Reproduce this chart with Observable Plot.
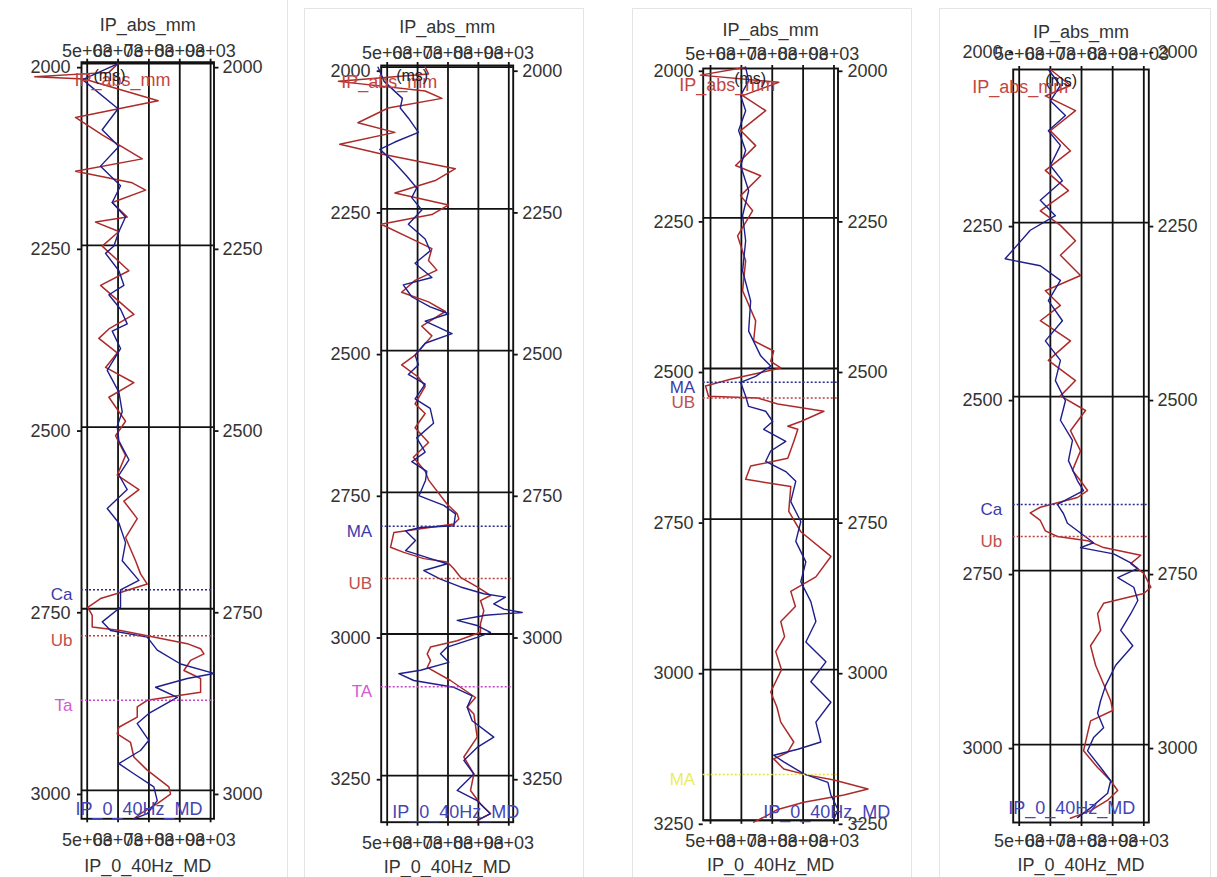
<!DOCTYPE html>
<html><head><meta charset="utf-8">
<script src="https://cdn.jsdelivr.net/npm/d3@7"></script>
<script src="https://cdn.jsdelivr.net/npm/@observablehq/plot@0.6"></script>
<style>
html,body{margin:0;padding:0;background:#fff}
body{width:1217px;height:877px;overflow:hidden;position:relative;font-family:"Liberation Sans",Arial,sans-serif}
.card{position:absolute;box-sizing:border-box;border:1px solid #e4e4e4}
.sep{position:absolute;background:#e4e4e4}
.panel{position:absolute;top:0}
</style></head><body>
<div class="sep" style="left:287px;top:0;width:1px;height:877px"></div>
<div class="card" style="left:304px;top:8px;width:280px;height:900px"></div>
<div class="card" style="left:632px;top:8px;width:280px;height:900px"></div>
<div class="card" style="left:939px;top:8px;width:272px;height:900px"></div>
<div id="p1" class="panel" style="left:0px"></div>
<div id="p2" class="panel" style="left:300px"></div>
<div id="p3" class="panel" style="left:625px"></div>
<div id="p4" class="panel" style="left:930px"></div>
<script>
// ---------------- data ----------------
const ipTicks = [5000, 6000, 7000, 8000, 9000];
const ipTickLabels = ["5e+03", "6e+03", "7e+03", "8e+03", "9e+03"];
const topTitle = "IP_abs_mm";
const bottomTitle = "IP_0_40Hz_MD";
const unitLabel = "(ms)";

// Well 1
const w1DepthTicks = [2000, 2250, 2500, 2750, 3000];
const w1RedDepth = [2000,2012,2018,2021,2051,2074,2098,2131,2148,2164,2174,2191,2211,2218,2231,2251,2285,2305,2345,2365,2378,2398,2418,2439,2459,2492,2512,2539,2566,2586,2602,2626,2652,2684,2702,2716,2729,2736,2748,2759,2775,2780,2787,2798,2805,2812,2821,2835,2846,2865,2869,2876,2885,2899,2913,2922,2934,2954,2972,2995,3005,3018,3032,3039];
const w1RedIP    = [6000,5700,3300,4900,7300,4620,5486,6784,4622,6459,6892,5811,6297,5270,6027,5486,6351,5432,6513,5703,5378,5973,5595,6513,5703,6243,5919,6243,5973,6676,6189,6622,6243,6567,6729,6946,5973,5431,5020,5162,5162,6080,6946,8244,8676,8784,8351,8135,8676,8676,8027,6946,6622,6622,6026,5973,6405,6513,6946,7647,7702,7271,6729,6513];
const w1BlueDepth = [2000,2022,2062,2091,2114,2141,2168,2191,2211,2231,2251,2261,2285,2305,2318,2338,2358,2368,2392,2422,2452,2479,2499,2519,2545,2566,2586,2612,2632,2659,2684,2711,2724,2748,2768,2780,2789,2807,2826,2839,2846,2858,2872,2894,2908,2931,2945,2963,2977,2995,3014,3032,3039];
const w1BlueIP    = [6000,4850,6000,5486,6027,5432,6081,5811,6243,6027,5865,5595,6027,6189,5703,6081,6297,5811,6081,5649,6027,6135,5973,6027,6351,6027,6297,5649,6027,6243,6135,6675,6080,6080,5487,5757,6946,7271,8027,9107,8244,7216,7919,6998,6622,6998,6729,6026,6513,7160,7271,6946,6513];
const w1Tops = ["Ca", "Ub", "Ta"];
const w1TopDepths = [2724, 2787, 2876];

// Well 2
const w2DepthTicks = [2000, 2250, 2500, 2750, 3000, 3250];
const w2RedDepth = [2000,2012,2025,2042,2055,2072,2098,2115,2136,2153,2179,2200,2222,2243,2260,2277,2303,2320,2341,2358,2376,2397,2414,2431,2457,2474,2508,2525,2547,2563,2594,2611,2636,2662,2688,2713,2729,2771,2788,2797,2806,2815,2821,2847,2856,2867,2873,2885,2900,2917,2932,2941,2959,2982,2997,3012,3023,3035,3047,3059,3082,3112,3129,3141,3182,3217,3247,3276,3300,3317,3329];
const w2RedIP    = [6249,6359,3400,6249,6801,5033,4037,5254,3440,4812,7243,6580,5254,7022,6470,4800,5807,6470,6359,6635,5917,5475,6359,6912,6138,6470,5917,5475,6028,6249,5917,6249,5917,6359,5862,6249,6369,6974,7302,7357,7192,5987,5219,5109,5547,6206,6974,7192,7412,7960,8398,8069,8178,8069,8069,7302,6425,6316,6425,6316,7083,7905,7632,7851,7960,7522,7851,7741,8069,8398,7960];
const w2BlueDepth = [2000,2025,2055,2072,2090,2115,2132,2145,2166,2192,2213,2230,2252,2277,2303,2324,2346,2371,2384,2405,2423,2435,2448,2470,2487,2508,2525,2542,2559,2585,2602,2628,2654,2679,2696,2713,2729,2750,2756,2773,2788,2809,2812,2818,2835,2853,2867,2876,2888,2903,2917,2929,2935,2947,2956,2962,2967,2976,2985,2997,3006,3023,3035,3050,3064,3070,3082,3094,3109,3129,3153,3182,3200,3223,3247,3276,3294,3317,3329];
const w2BlueIP    = [4700,4900,5500,5430,5700,6028,5254,4757,5199,5641,5972,5807,6138,5696,6249,6414,5917,6470,5530,5807,6414,7022,6249,7133,6249,5917,6028,5696,6249,5917,6414,6525,5972,6249,5807,6304,6260,6096,6040,6862,7247,7192,6096,5602,5931,5602,6425,6974,6206,6754,7412,8178,8892,8507,8837,9442,8233,7302,7960,8398,7960,6974,6754,7028,6096,5382,5875,7192,7796,7632,7796,8507,7960,7522,7851,7302,7960,8398,7960];
const w2Tops = ["MA", "UB", "TA"];
const w2TopDepths = [2810, 2902, 3093];

// Well 3
const w3DepthTicks = [2000, 2250, 2500, 2750, 3000, 3250];
const w3RedDepth = [2000,2013,2025,2047,2072,2105,2130,2163,2180,2213,2238,2280,2321,2371,2421,2454,2471,2488,2499,2508,2518,2529,2546,2549,2559,2571,2588,2596,2601,2621,2649,2662,2684,2696,2737,2771,2812,2846,2870,2895,2920,2945,2970,3000,3037,3062,3087,3120,3137,3148,3165,3175,3183,3198,3208,3220,3232,3245,3253];
const w3RedIP    = [6138,4675,7210,6040,6788,5975,6463,5813,6625,5975,6365,5878,6138,6040,6463,6398,7048,6950,7275,6528,5650,4838,4935,6528,7178,8673,7925,7503,7828,7698,7503,6300,6138,7600,7535,7925,8900,8413,7600,7750,7275,7400,7113,7300,6950,7150,7275,7698,7503,7048,7373,8153,8998,10103,9323,8023,7178,6723,6398];
const w3BlueDepth = [2000,2022,2047,2072,2105,2138,2163,2205,2246,2288,2338,2388,2438,2479,2496,2513,2523,2546,2563,2571,2588,2601,2621,2637,2654,2671,2687,2721,2754,2787,2821,2854,2887,2920,2954,2987,3020,3054,3087,3120,3132,3142,3153,3173,3187,3208,3232,3248];
const w3BlueIP    = [6138,6235,5975,6138,5910,6138,5975,6235,6040,6138,6040,6300,6235,6625,6950,6463,5975,6138,6235,6788,7015,6723,7438,6950,6788,7438,7763,7600,7925,7763,8088,7925,8250,8413,8088,8738,8250,8900,8413,8575,7828,7048,7373,8023,8803,8900,9128,8998];
const w3Tops = ["MA", "UB", "MA"];
const w3TopDepths = [2523, 2549, 3174];

// Well 4
const w4DepthTicks = [2000, 2250, 2500, 2750, 3000];
const w4RedDepth = [2030,2053,2068,2089,2118,2147,2175,2204,2233,2254,2276,2297,2326,2348,2369,2391,2420,2448,2477,2499,2520,2549,2578,2606,2621,2635,2645,2659,2667,2678,2693,2701,2707,2717,2728,2740,2754,2774,2783,2797,2812,2836,2858,2886,2937,2951,2966,2984,3009,3033,3052,3066,3080,3095,3106];
const w4RedIP    = [6000,6645,5839,6807,6000,6645,5839,6581,5677,6323,6807,6323,6968,5839,6323,5677,6645,5936,6807,6323,7129,6645,6968,6710,6968,7194,6871,5677,5355,5677,5839,6226,7194,7710,8903,8581,9000,9226,9000,7710,7516,7613,7290,7452,7936,8000,7290,7194,7065,7516,7936,8161,7839,7290,6645];
const w4BlueDepth = [2030,2053,2075,2096,2118,2139,2168,2190,2218,2240,2261,2302,2312,2333,2362,2391,2420,2448,2477,2506,2534,2563,2592,2621,2635,2655,2668,2682,2710,2717,2726,2739,2747,2760,2774,2793,2812,2836,2858,2886,2915,2937,2955,2976,2990,3009,3033,3052,3070,3091,3105];
const w4BlueIP    = [5936,6323,6000,6484,5936,6323,6000,6387,5677,6161,5355,4548,5677,6323,5936,6387,5839,6323,6161,6484,6323,6710,6581,6871,7065,6226,6419,6548,7387,6968,8032,8581,8807,8161,8678,8807,8581,8258,8645,8097,7774,7613,7516,7710,7387,7194,7613,7936,7839,7290,6871];
const w4Tops = ["Ca", "Ub"];
const w4TopDepths = [2655, 2701];

// ---------------- styles ----------------
const INK = "#111";
const TEXT = "#333";
const RED = "#ad2a2a";
const BLUE = "#1e1e8c";
const topStyle = {
  blue:    {line: "#2b2b95", text: "#3b3bab"},
  red:     {line: "#b8403e", text: "#c0504c"},
  magenta: {line: "#c844c8", text: "#d25ad2"},
  yellow:  {line: "#e2e040", text: "#ecec5a"}
};

function wellPlot(o) {
  const H = 877;
  const red = o.redDepth.map((d, i) => ({depth: d, ip: o.redIP[i]}));
  const blue = o.blueDepth.map((d, i) => ({depth: d, ip: o.blueIP[i]}));
  const tops = o.tops.map((n, i) => ({name: n, depth: o.topDepths[i], line: topStyle[o.topKinds[i]].line, text: topStyle[o.topKinds[i]].text}));
  const grid = o.depthTicks.filter(d => d >= o.yDomain[0] && d <= o.yDomain[1]);
  const ipLabel = d => ipTickLabels[ipTicks.indexOf(d)];
  const [fl, fr, ft, fb] = o.frame;
  const label = (txt, extra) => Plot.text([txt], {text: d => d, lineAnchor: "middle", fontSize: 18, ...extra});
  return Plot.plot({
    width: o.width, height: H,
    marginLeft: fl, marginRight: o.width - fr, marginTop: ft, marginBottom: H - fb,
    x: {domain: o.xDomain},
    y: {domain: o.yDomain, reverse: true},
    style: {background: "none", color: TEXT, fontFamily: "Liberation Sans, Arial, sans-serif", fontSize: "18px", overflow: "visible"},
    marks: [
      Plot.gridX(ipTicks, {stroke: INK, strokeOpacity: 1, strokeWidth: 1.8}),
      Plot.gridY(grid, {stroke: INK, strokeOpacity: 1, strokeWidth: 1.8}),
      Plot.axisX(ipTicks, {anchor: "top", tickSize: 4, tickPadding: o.topPad, tickFormat: ipLabel, label: null, stroke: INK, strokeWidth: 1.8, fontSize: 18}),
      Plot.axisX(ipTicks, {anchor: "bottom", tickSize: 4, tickPadding: o.bottomPad, tickFormat: ipLabel, label: null, stroke: INK, strokeWidth: 1.8, fontSize: 18}),
      Plot.axisY(o.depthTicks, {anchor: "left", tickSize: 4, tickPadding: o.leftPad, dy: 4, tickFormat: d => String(d), label: null, stroke: INK, strokeWidth: 1.8, fontSize: 18}),
      Plot.axisY(o.depthTicks, {anchor: "right", tickSize: 4, tickPadding: o.rightPad, dy: 4, tickFormat: d => String(d), label: null, stroke: INK, strokeWidth: 1.8, fontSize: 18}),
      Plot.frame({stroke: INK, strokeWidth: 1.9}),
      Plot.line(red, {x: "ip", y: "depth", stroke: RED, strokeWidth: 1.5}),
      Plot.line(blue, {x: "ip", y: "depth", stroke: BLUE, strokeWidth: 1.4}),
      Plot.ruleY(tops, {y: "depth", stroke: "line", strokeWidth: 1.5, strokeDasharray: "2,2"}),
      Plot.text(tops, {y: "depth", text: "name", fill: "text", frameAnchor: "left", lineAnchor: "middle", textAnchor: "end", dx: -o.topDx, dy: 5, fontSize: 17}),
      label(topTitle, {frameAnchor: "top", dy: o.titleDy}),
      label(bottomTitle, {frameAnchor: "bottom", dy: o.bottomTitleDy}),
      label(topTitle, {frameAnchor: "top-left", textAnchor: "middle", dx: o.redLab[0], dy: o.redLab[1], fill: "#c3453f"}),
      label(unitLabel, {frameAnchor: "top-left", textAnchor: "middle", dx: o.unitLab[0], dy: o.unitLab[1], fill: "#222", fontSize: 16}),
      label(bottomTitle, {frameAnchor: "bottom-left", textAnchor: "start", dx: o.blueLab[0], dy: o.blueLab[1], fill: "#4545b5"})
    ]
  });
}

document.getElementById("p1").appendChild(wellPlot({
  width: 290, frame: [81, 213.5, 61.7, 818.3], xDomain: [4815, 9110], yDomain: [1998, 3039],
  depthTicks: w1DepthTicks, redDepth: w1RedDepth, redIP: w1RedIP, blueDepth: w1BlueDepth, blueIP: w1BlueIP,
  tops: w1Tops, topDepths: w1TopDepths, topKinds: ["blue", "red", "magenta"],
  topPad: 1, bottomPad: 10, leftPad: 7, rightPad: 4.5, topDx: 9,
  titleDy: -37, bottomTitleDy: 47, redLab: [41, 18], unitLab: [28, 14], blueLab: [-6, -10]
}));
document.getElementById("p2").appendChild(wellPlot({
  width: 290, frame: [80.7, 212.7, 65, 821.7], xDomain: [4803, 9145], yDomain: [1997, 3332],
  depthTicks: w2DepthTicks, redDepth: w2RedDepth, redIP: w2RedIP, blueDepth: w2BlueDepth, blueIP: w2BlueIP,
  tops: w2Tops, topDepths: w2TopDepths, topKinds: ["blue", "red", "magenta"],
  topPad: 3, bottomPad: 10, leftPad: 6.7, rightPad: 5, topDx: 9,
  titleDy: -38, bottomTitleDy: 45, redLab: [8, 17], unitLab: [31, 10], blueLab: [11, -10]
}));
document.getElementById("p3").appendChild(wellPlot({
  width: 290, frame: [77.7, 212.5, 68, 819.8], xDomain: [4763, 9130], yDomain: [2002, 3250],
  depthTicks: w3DepthTicks, redDepth: w3RedDepth, redIP: w3RedIP, blueDepth: w3BlueDepth, blueIP: w3BlueIP,
  tops: w3Tops, topDepths: w3TopDepths, topKinds: ["blue", "red", "yellow"],
  topPad: 5, bottomPad: 10, leftPad: 5.7, rightPad: 5.5, topDx: 8,
  titleDy: -38, bottomTitleDy: 45, redLab: [24, 17], unitLab: [47, 10], blueLab: [60, -8]
}));
document.getElementById("p4").appendChild(wellPlot({
  width: 287, frame: [82.7, 218.3, 69, 822], xDomain: [4807, 9160], yDomain: [2030, 3112],
  depthTicks: w4DepthTicks, redDepth: w4RedDepth, redIP: w4RedIP, blueDepth: w4BlueDepth, blueIP: w4BlueIP,
  tops: w4Tops, topDepths: w4TopDepths, topKinds: ["blue", "red"],
  topPad: 6, bottomPad: 8, leftPad: 6.7, rightPad: 4.7, topDx: 11,
  titleDy: -37, bottomTitleDy: 43, redLab: [7, 18], unitLab: [48, 11], blueLab: [-5, -14]
}));
</script>
</body></html>
